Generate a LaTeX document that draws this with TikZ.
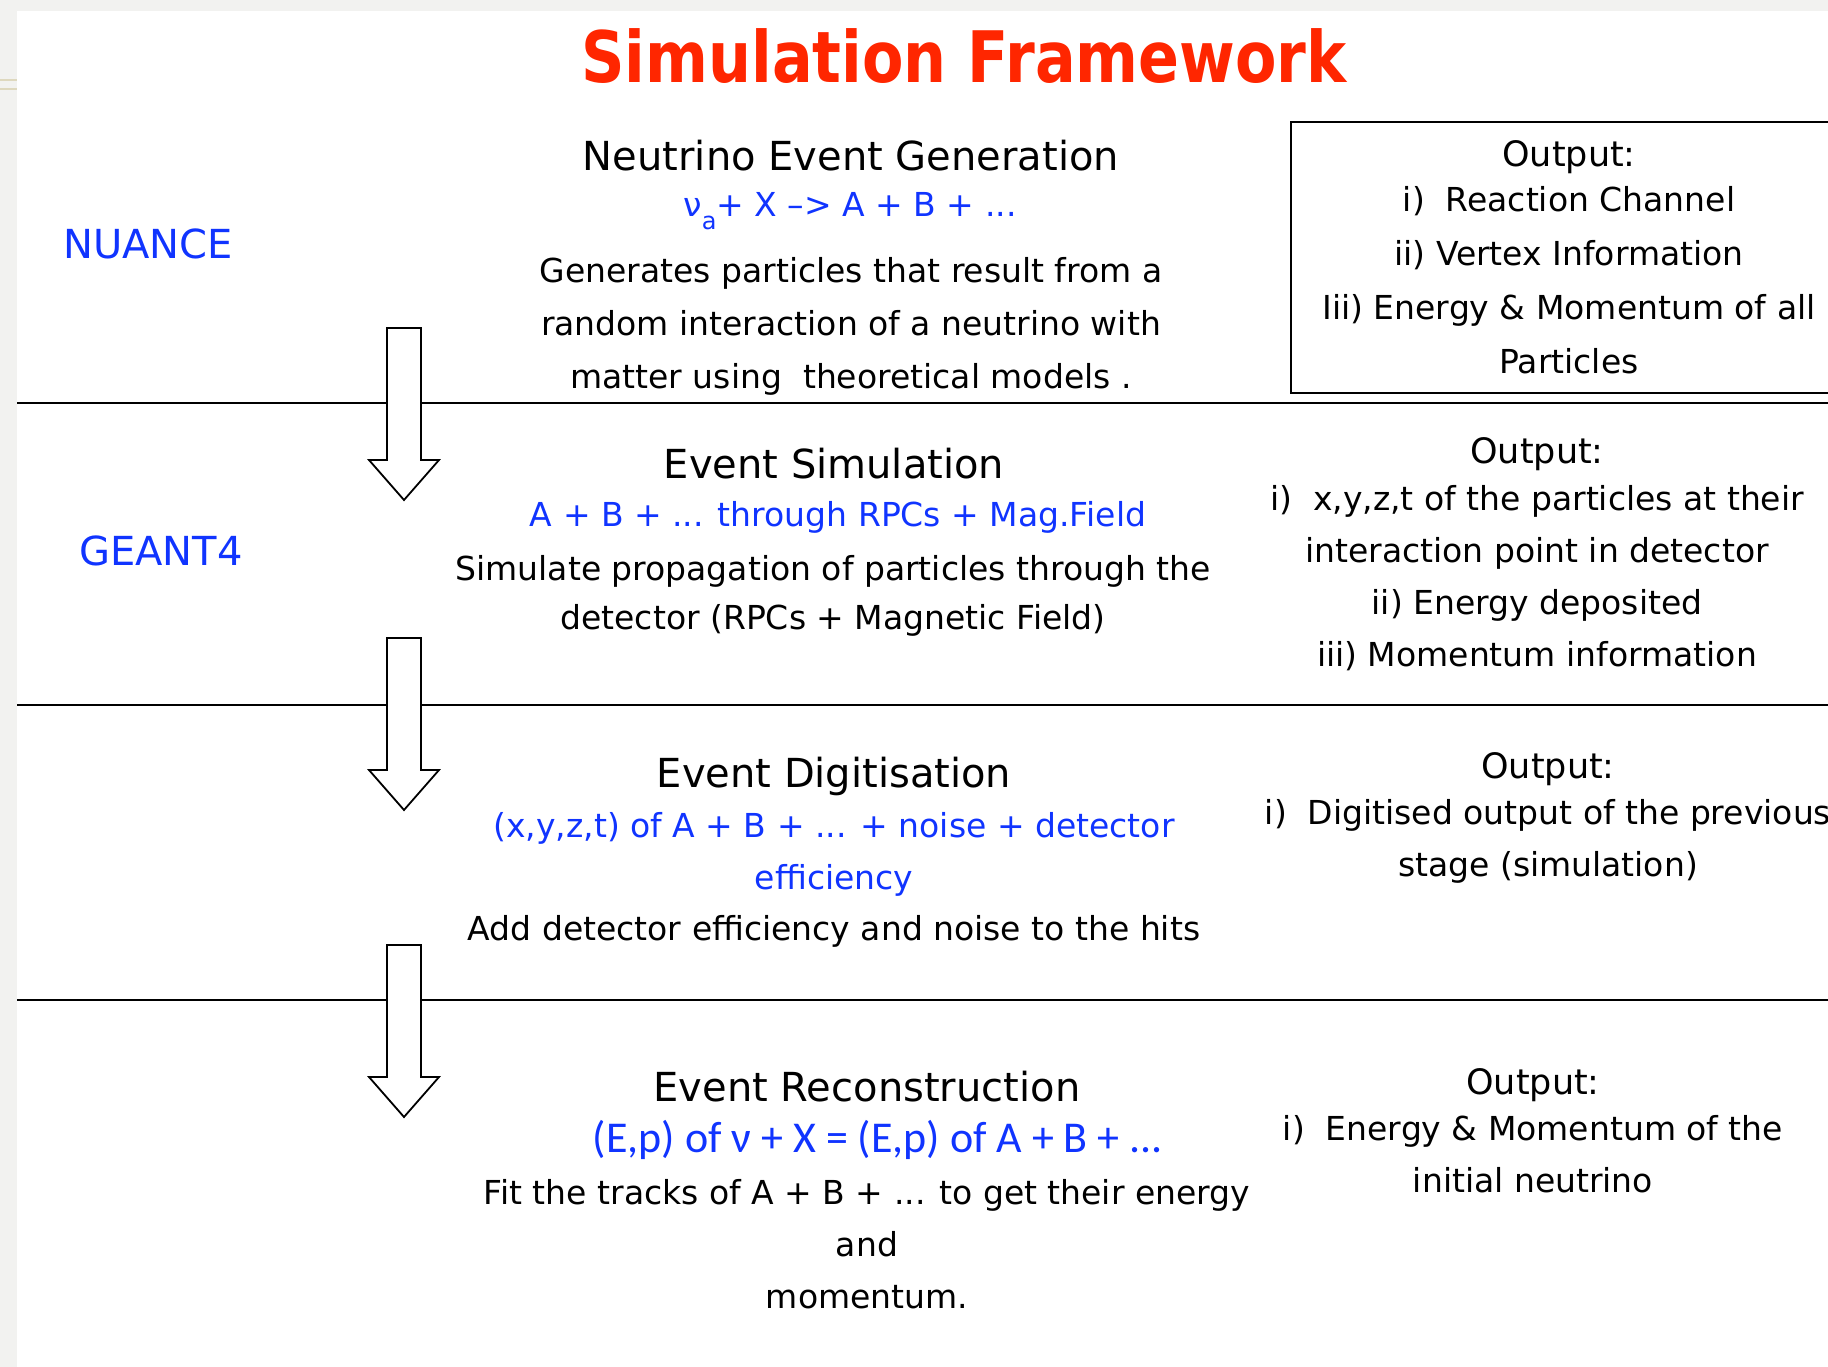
\documentclass[tikz,border=0pt]{standalone}
\usepackage{fontspec}
\setmainfont{DejaVu Sans}
\newfontfamily\titlefont[FakeStretch=0.85]{DejaVu Sans}
\newfontfamily\calfont{Carlito}
\definecolor{simblue}{RGB}{16,52,255}
\definecolor{titlered}{RGB}{255,38,0}
\definecolor{pagegray}{RGB}{242,242,240}
\definecolor{rulebeige}{RGB}{222,216,190}

\begin{document}
\begin{tikzpicture}[x=1pt,y=-1pt,
	headline/.style={text=titlered,font=\titlefont\bfseries\fontsize{71}{80}\selectfont},
	stagehead/.style={font=\fontsize{40}{48}\selectfont},
	tool/.style={text=simblue,font=\fontsize{40}{48}\selectfont},
	formula/.style={text=simblue,align=center,font=\fontsize{33}{52}\selectfont},
	desc/.style={align=center,font=\fontsize{33}{53}\selectfont},
	output/.style={align=center,font=\fontsize{33}{52}\selectfont},
	outbox/.style={draw,line width=1.6pt,minimum width=556pt,minimum height=271pt,align=center,font=\fontsize{33}{54}\selectfont},
	sepline/.style={line width=1.8pt},
	blockarrow/.style={draw,fill=white,line width=1.8pt}]
	\useasboundingbox (0,0) rectangle (1828,1367);
	\clip (0,0) rectangle (1828,1367);
	\fill[pagegray] (0,0) rectangle (1828,1367);
	\fill[white] (17,11) rectangle (1828,1367);
	\draw[rulebeige,line width=1.5pt] (0,80) -- (17,80) (0,89) -- (17,89);

	\node[headline] (title) at (964,56) {Simulation Framework};

	\node[stagehead] (genhead) at (851,156) {Neutrino Event Generation};
	\node[formula] (genform) at (850,211) {ν\raisebox{-0.4em}{\fontsize{24}{24}\selectfont a}+ X –> A + B + ...};
	\node[desc] (gendesc) at (851,326) {Generates particles that result from a\\random interaction of a neutrino with\\matter using~~theoretical models .};
	\node[tool] (nuance) at (148,244) {NUANCE};
	\node[outbox] (genout) at (1569,257.5) {{\fontsize{35}{40}\selectfont Output:}\\[-9pt]i)~~Reaction Channel\\ii) Vertex Information\\Iii) Energy \& Momentum of all\\Particles};

	\node[stagehead] (simhead) at (834,464) {Event Simulation};
	\node[formula] (simform) at (838,517) {A + B + ... through RPCs + Mag.Field};
	\node[desc] (simdesc) at (833,596) {Simulate propagation of particles through the\\[-4pt]detector (RPCs + Magnetic Field)};
	\node[tool] (geant) at (161,551) {GEANT4};
	\node[output] (simout) at (1537,554) {{\fontsize{35}{40}\selectfont Output:}\\[-5pt]i)~~x,y,z,t of the particles at their\\interaction point in detector\\ii) Energy deposited\\iii) Momentum information};

	\node[stagehead] (digihead) at (834,776) {Event Digitisation};
	\node[formula] (digiform) at (834,854) {(x,y,z,t) of A + B + ... + noise + detector\\efficiency};
	\node[desc] (digidesc) at (834,931) {Add detector efficiency and noise to the hits};
	\node[output] (digiout) at (1548,818) {{\fontsize{35}{40}\selectfont Output:}\\[-6pt]i)~~Digitised output of the previous\\stage (simulation)};

	\node[stagehead] (recohead) at (867,1087) {Event Reconstruction};
	\node[formula,font=\calfont\fontsize{44}{52}\selectfont] (recoform) at (878,1140) {(E,p) of ν + X = (E,p) of A + B + ...};
	\node[desc,font=\fontsize{33}{52}\selectfont] (recodesc) at (867,1244) {Fit the tracks of A + B + ... to get their energy\\and\\momentum.};
	\node[output] (recoout) at (1533,1131) {{\fontsize{35}{40}\selectfont Output:}\\[-6pt]i)~~Energy \& Momentum of the\\initial neutrino};

	\foreach \y in {403,705,1000}
		\draw[sepline] (17,\y) -- (1828,\y);
	\foreach \t in {328,638,945}
		\draw[blockarrow] (387,\t) -- (421,\t) -- (421,\t+132) -- (439,\t+132) -- (404,\t+172) -- (369,\t+132) -- (387,\t+132) -- cycle;
\end{tikzpicture}
\end{document}
